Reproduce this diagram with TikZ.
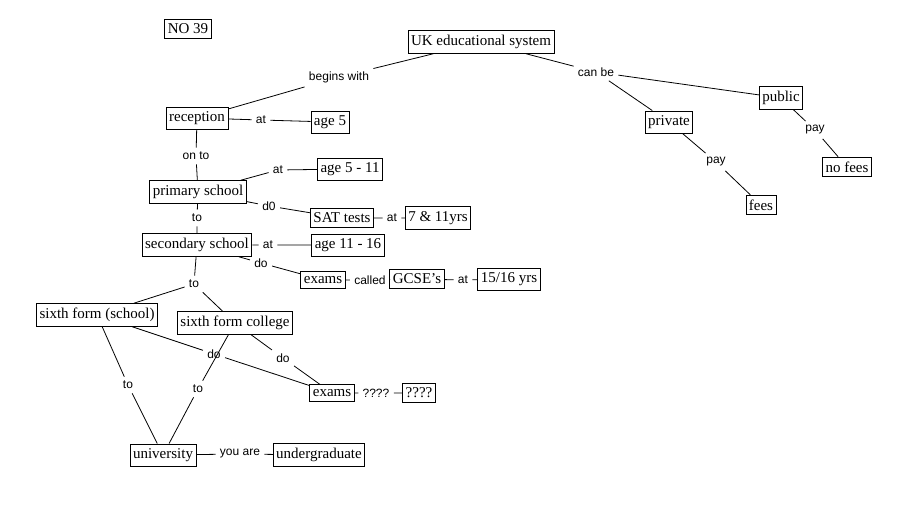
\documentclass[tikz,border=0pt]{standalone}
\usepackage{fontspec}
\setmainfont{Liberation Serif}
\newfontfamily\linkfont{Liberation Sans}
\begin{document}
\begin{tikzpicture}[x=1pt,y=-1pt,line width=0.8pt,
  concept/.style={draw,inner xsep=3pt,inner ysep=4.5pt,font=\fontsize{15}{17}\selectfont},
  linkword/.style={inner sep=4pt,font=\linkfont\fontsize{12}{14}\selectfont}]
  \useasboundingbox (0,0) rectangle (914,508);

 \node[concept] (no39) at (188,29) {NO 39};
 \node[concept] (uk) at (481,42) {UK educational system};
 \node[linkword] (begins) at (339,77) {begins with};
 \node[concept] (reception) at (197,118) {reception};
 \node[linkword] (at1) at (261,120) {at};
 \node[concept] (age5) at (330,122) {age 5};
 \node[linkword] (onto) at (196,156) {on to};
 \node[concept] (primary) at (198,192) {primary school};
 \node[linkword] (at2) at (278,170) {at};
 \node[concept] (age511) at (350,169) {age 5 - 11};
 \node[linkword] (d0) at (269,206) {d0};
 \node[concept] (sat) at (342,218) {SAT tests};
 \node[linkword] (at3) at (392,218) {at};
 \node[concept] (yrs711) at (438,218) {7 \& 11yrs};
 \node[linkword] (to1) at (197,218) {to};
 \node[concept] (secondary) at (197,245) {secondary school};
 \node[linkword] (at4) at (268,245) {at};
 \node[concept] (age1116) at (348,245) {age 11 - 16};
 \node[linkword] (do1) at (261,263) {do};
 \node[concept] (exams1) at (323,280) {exams};
 \node[linkword] (called) at (370,280) {called};
 \node[concept] (gcse) at (417,279) {GCSE's};
 \node[linkword] (at5) at (463,280) {at};
 \node[concept] (yrs1516) at (509,279) {15/16 yrs};
 \node[linkword] (to2) at (194,284) {to};
 \node[concept] (sixthschool) at (97,315) {sixth form (school)};
 \node[concept] (sixthcollege) at (235,323) {sixth form college};
 \node[linkword] (do2) at (214,354) {do};
 \node[linkword] (do3) at (283,358) {do};
 \node[linkword] (to3) at (128,385) {to};
 \node[linkword] (to4) at (198,389) {to};
 \node[concept] (exams2) at (332,393) {exams};
 \node[linkword] (qlink) at (376,393) {????};
 \node[concept] (qmark) at (419,393) {????};
 \node[concept] (university) at (163,455) {university};
 \node[linkword] (youare) at (240,454) {you are};
 \node[concept] (undergrad) at (319,455) {undergraduate};
 \node[linkword] (canbe) at (596,72) {can be};
 \node[concept] (private) at (669,122) {private};
 \node[linkword] (pay1) at (716,162) {pay};
 \node[concept] (fees) at (761,205) {fees};
 \node[concept] (public) at (781,98) {public};
 \node[linkword] (pay2) at (815,130) {pay};
 \node[concept] (nofees) at (847,167) {no fees};

 \draw (uk) -- (begins) -- (reception)
 (reception) -- (at1) -- (age5)
 (reception) -- (onto) -- (primary)
 (primary) -- (at2) -- (age511)
 (primary) -- (d0) -- (sat) -- (at3) -- (yrs711)
 (primary) -- (to1) -- (secondary)
 (secondary) -- (at4) -- (age1116)
 (secondary) -- (do1) -- (exams1) -- (called) -- (gcse) -- (at5) -- (yrs1516);
 \draw (secondary) -- (to2) -- (sixthschool) (to2) -- (sixthcollege)
 (sixthschool) -- (do2) -- (exams2) (sixthcollege) -- (do3) -- (exams2)
 (exams2) -- (qlink) -- (qmark)
 (sixthschool) -- (to3) -- (university) (sixthcollege) -- (to4) -- (university)
 (university) -- (youare) -- (undergrad);
 \draw (uk) -- (canbe) -- (private) (canbe) -- (public)
 (private) -- (pay1) -- (fees) (public) -- (pay2) -- (nofees);

\end{tikzpicture}
\end{document}
